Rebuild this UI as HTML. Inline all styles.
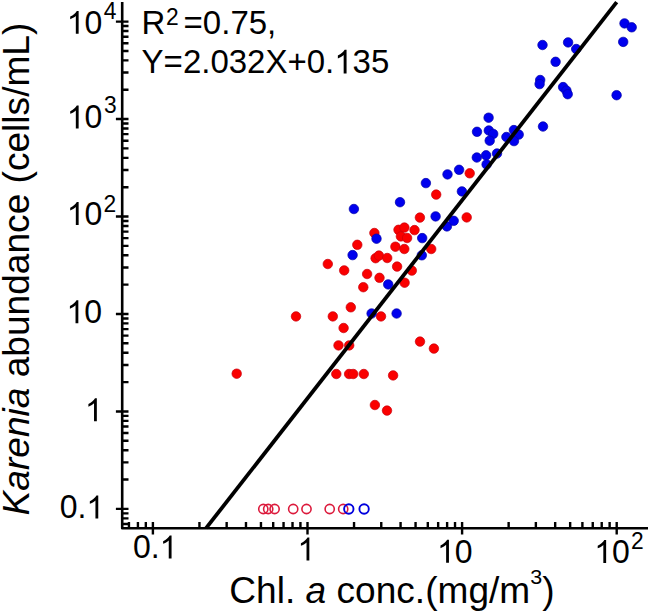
<!DOCTYPE html>
<html><head><meta charset="utf-8"><style>
html,body{margin:0;padding:0;background:#fff;overflow:hidden;}
svg{display:block;}
text{font-family:"Liberation Sans",sans-serif;fill:#000;}
</style></head><body>
<svg width="650" height="612" viewBox="0 0 650 612">
<rect width="650" height="612" fill="#fff"/>
<circle cx="236.7" cy="373.7" r="4.75" fill="#fa0000" stroke="#c8000c" stroke-width="0.7"/><circle cx="296.0" cy="316.4" r="4.75" fill="#fa0000" stroke="#c8000c" stroke-width="0.7"/><circle cx="327.8" cy="264.0" r="4.75" fill="#fa0000" stroke="#c8000c" stroke-width="0.7"/><circle cx="332.8" cy="316.4" r="4.75" fill="#fa0000" stroke="#c8000c" stroke-width="0.7"/><circle cx="336.3" cy="374.0" r="4.75" fill="#fa0000" stroke="#c8000c" stroke-width="0.7"/><circle cx="338.5" cy="345.4" r="4.75" fill="#fa0000" stroke="#c8000c" stroke-width="0.7"/><circle cx="343.6" cy="328.0" r="4.75" fill="#fa0000" stroke="#c8000c" stroke-width="0.7"/><circle cx="344.2" cy="270.4" r="4.75" fill="#fa0000" stroke="#c8000c" stroke-width="0.7"/><circle cx="349.2" cy="345.4" r="4.75" fill="#fa0000" stroke="#c8000c" stroke-width="0.7"/><circle cx="349.1" cy="374.0" r="4.75" fill="#fa0000" stroke="#c8000c" stroke-width="0.7"/><circle cx="350.8" cy="307.3" r="4.75" fill="#fa0000" stroke="#c8000c" stroke-width="0.7"/><circle cx="353.2" cy="374.0" r="4.75" fill="#fa0000" stroke="#c8000c" stroke-width="0.7"/><circle cx="357.3" cy="244.8" r="4.75" fill="#fa0000" stroke="#c8000c" stroke-width="0.7"/><circle cx="363.3" cy="287.2" r="4.75" fill="#fa0000" stroke="#c8000c" stroke-width="0.7"/><circle cx="363.8" cy="374.0" r="4.75" fill="#fa0000" stroke="#c8000c" stroke-width="0.7"/><circle cx="367.1" cy="274.0" r="4.75" fill="#fa0000" stroke="#c8000c" stroke-width="0.7"/><circle cx="374.4" cy="233.0" r="4.75" fill="#fa0000" stroke="#c8000c" stroke-width="0.7"/><circle cx="374.9" cy="405.0" r="4.75" fill="#fa0000" stroke="#c8000c" stroke-width="0.7"/><circle cx="375.6" cy="258.2" r="4.75" fill="#fa0000" stroke="#c8000c" stroke-width="0.7"/><circle cx="378.9" cy="255.6" r="4.75" fill="#fa0000" stroke="#c8000c" stroke-width="0.7"/><circle cx="379.5" cy="277.8" r="4.75" fill="#fa0000" stroke="#c8000c" stroke-width="0.7"/><circle cx="381.0" cy="316.4" r="4.75" fill="#fa0000" stroke="#c8000c" stroke-width="0.7"/><circle cx="387.2" cy="258.0" r="4.75" fill="#fa0000" stroke="#c8000c" stroke-width="0.7"/><circle cx="387.0" cy="410.6" r="4.75" fill="#fa0000" stroke="#c8000c" stroke-width="0.7"/><circle cx="393.1" cy="375.4" r="4.75" fill="#fa0000" stroke="#c8000c" stroke-width="0.7"/><circle cx="395.4" cy="246.7" r="4.75" fill="#fa0000" stroke="#c8000c" stroke-width="0.7"/><circle cx="397.1" cy="266.6" r="4.75" fill="#fa0000" stroke="#c8000c" stroke-width="0.7"/><circle cx="398.5" cy="229.8" r="4.75" fill="#fa0000" stroke="#c8000c" stroke-width="0.7"/><circle cx="404.4" cy="227.6" r="4.75" fill="#fa0000" stroke="#c8000c" stroke-width="0.7"/><circle cx="400.9" cy="236.4" r="4.75" fill="#fa0000" stroke="#c8000c" stroke-width="0.7"/><circle cx="407.1" cy="238.0" r="4.75" fill="#fa0000" stroke="#c8000c" stroke-width="0.7"/><circle cx="404.3" cy="249.0" r="4.75" fill="#fa0000" stroke="#c8000c" stroke-width="0.7"/><circle cx="404.6" cy="282.7" r="4.75" fill="#fa0000" stroke="#c8000c" stroke-width="0.7"/><circle cx="411.8" cy="270.6" r="4.75" fill="#fa0000" stroke="#c8000c" stroke-width="0.7"/><circle cx="414.5" cy="230.1" r="4.75" fill="#fa0000" stroke="#c8000c" stroke-width="0.7"/><circle cx="419.9" cy="217.6" r="4.75" fill="#fa0000" stroke="#c8000c" stroke-width="0.7"/><circle cx="420.0" cy="341.6" r="4.75" fill="#fa0000" stroke="#c8000c" stroke-width="0.7"/><circle cx="431.2" cy="249.0" r="4.75" fill="#fa0000" stroke="#c8000c" stroke-width="0.7"/><circle cx="433.9" cy="348.6" r="4.75" fill="#fa0000" stroke="#c8000c" stroke-width="0.7"/><circle cx="436.2" cy="194.6" r="4.75" fill="#fa0000" stroke="#c8000c" stroke-width="0.7"/><circle cx="466.7" cy="217.4" r="4.75" fill="#fa0000" stroke="#c8000c" stroke-width="0.7"/><circle cx="469.7" cy="173.3" r="4.75" fill="#fa0000" stroke="#c8000c" stroke-width="0.7"/><circle cx="353.9" cy="209.0" r="4.75" fill="#0000ee" stroke="#0000a8" stroke-width="0.7"/><circle cx="352.6" cy="255.1" r="4.75" fill="#0000ee" stroke="#0000a8" stroke-width="0.7"/><circle cx="376.5" cy="238.7" r="4.75" fill="#0000ee" stroke="#0000a8" stroke-width="0.7"/><circle cx="371.6" cy="313.5" r="4.75" fill="#0000ee" stroke="#0000a8" stroke-width="0.7"/><circle cx="388.2" cy="284.4" r="4.75" fill="#0000ee" stroke="#0000a8" stroke-width="0.7"/><circle cx="396.6" cy="313.5" r="4.75" fill="#0000ee" stroke="#0000a8" stroke-width="0.7"/><circle cx="400.0" cy="202.2" r="4.75" fill="#0000ee" stroke="#0000a8" stroke-width="0.7"/><circle cx="421.8" cy="255.3" r="4.75" fill="#0000ee" stroke="#0000a8" stroke-width="0.7"/><circle cx="422.2" cy="238.1" r="4.75" fill="#0000ee" stroke="#0000a8" stroke-width="0.7"/><circle cx="425.9" cy="183.1" r="4.75" fill="#0000ee" stroke="#0000a8" stroke-width="0.7"/><circle cx="435.6" cy="216.4" r="4.75" fill="#0000ee" stroke="#0000a8" stroke-width="0.7"/><circle cx="446.9" cy="226.4" r="4.75" fill="#0000ee" stroke="#0000a8" stroke-width="0.7"/><circle cx="447.5" cy="174.4" r="4.75" fill="#0000ee" stroke="#0000a8" stroke-width="0.7"/><circle cx="453.7" cy="220.8" r="4.75" fill="#0000ee" stroke="#0000a8" stroke-width="0.7"/><circle cx="459.1" cy="169.8" r="4.75" fill="#0000ee" stroke="#0000a8" stroke-width="0.7"/><circle cx="461.9" cy="191.4" r="4.75" fill="#0000ee" stroke="#0000a8" stroke-width="0.7"/><circle cx="476.8" cy="157.5" r="4.75" fill="#0000ee" stroke="#0000a8" stroke-width="0.7"/><circle cx="477.0" cy="131.8" r="4.75" fill="#0000ee" stroke="#0000a8" stroke-width="0.7"/><circle cx="486.1" cy="155.3" r="4.75" fill="#0000ee" stroke="#0000a8" stroke-width="0.7"/><circle cx="486.6" cy="164.4" r="4.75" fill="#0000ee" stroke="#0000a8" stroke-width="0.7"/><circle cx="488.6" cy="117.7" r="4.75" fill="#0000ee" stroke="#0000a8" stroke-width="0.7"/><circle cx="488.8" cy="130.5" r="4.75" fill="#0000ee" stroke="#0000a8" stroke-width="0.7"/><circle cx="493.2" cy="133.9" r="4.75" fill="#0000ee" stroke="#0000a8" stroke-width="0.7"/><circle cx="489.7" cy="140.7" r="4.75" fill="#0000ee" stroke="#0000a8" stroke-width="0.7"/><circle cx="497.0" cy="153.5" r="4.75" fill="#0000ee" stroke="#0000a8" stroke-width="0.7"/><circle cx="506.4" cy="137.0" r="4.75" fill="#0000ee" stroke="#0000a8" stroke-width="0.7"/><circle cx="513.9" cy="130.1" r="4.75" fill="#0000ee" stroke="#0000a8" stroke-width="0.7"/><circle cx="518.7" cy="134.6" r="4.75" fill="#0000ee" stroke="#0000a8" stroke-width="0.7"/><circle cx="514.0" cy="141.1" r="4.75" fill="#0000ee" stroke="#0000a8" stroke-width="0.7"/><circle cx="543.0" cy="126.5" r="4.75" fill="#0000ee" stroke="#0000a8" stroke-width="0.7"/><circle cx="542.5" cy="45.0" r="4.75" fill="#0000ee" stroke="#0000a8" stroke-width="0.7"/><circle cx="568.1" cy="42.4" r="4.75" fill="#0000ee" stroke="#0000a8" stroke-width="0.7"/><circle cx="576.2" cy="49.0" r="4.75" fill="#0000ee" stroke="#0000a8" stroke-width="0.7"/><circle cx="555.6" cy="61.8" r="4.75" fill="#0000ee" stroke="#0000a8" stroke-width="0.7"/><circle cx="540.2" cy="80.0" r="4.75" fill="#0000ee" stroke="#0000a8" stroke-width="0.7"/><circle cx="539.6" cy="84.1" r="4.75" fill="#0000ee" stroke="#0000a8" stroke-width="0.7"/><circle cx="563.1" cy="87.1" r="4.75" fill="#0000ee" stroke="#0000a8" stroke-width="0.7"/><circle cx="566.4" cy="90.6" r="4.75" fill="#0000ee" stroke="#0000a8" stroke-width="0.7"/><circle cx="567.7" cy="94.2" r="4.75" fill="#0000ee" stroke="#0000a8" stroke-width="0.7"/><circle cx="624.5" cy="23.4" r="4.75" fill="#0000ee" stroke="#0000a8" stroke-width="0.7"/><circle cx="631.7" cy="27.3" r="4.75" fill="#0000ee" stroke="#0000a8" stroke-width="0.7"/><circle cx="623.2" cy="41.9" r="4.75" fill="#0000ee" stroke="#0000a8" stroke-width="0.7"/><circle cx="616.6" cy="95.2" r="4.75" fill="#0000ee" stroke="#0000a8" stroke-width="0.7"/><circle cx="263.3" cy="509.0" r="4.6" fill="none" stroke="#dc1a3c" stroke-width="1.6"/><circle cx="268.2" cy="509.0" r="4.6" fill="none" stroke="#dc1a3c" stroke-width="1.6"/><circle cx="274.6" cy="509.0" r="4.6" fill="none" stroke="#dc1a3c" stroke-width="1.6"/><circle cx="293.2" cy="509.0" r="4.6" fill="none" stroke="#dc1a3c" stroke-width="1.6"/><circle cx="306.5" cy="509.0" r="4.6" fill="none" stroke="#dc1a3c" stroke-width="1.6"/><circle cx="329.7" cy="509.0" r="4.6" fill="none" stroke="#dc1a3c" stroke-width="1.6"/><circle cx="343.2" cy="509.0" r="4.6" fill="none" stroke="#dc1a3c" stroke-width="1.6"/><circle cx="348.8" cy="509.0" r="4.7" fill="none" stroke="#0000dd" stroke-width="1.9"/><circle cx="364.1" cy="509.0" r="4.7" fill="none" stroke="#0000dd" stroke-width="1.9"/>
<path d="M206.08 528.2L616.70 2.2" stroke="#000" stroke-width="3.8" fill="none"/>
<path d="M122.2 2.0V528.2H648.0" stroke="#000" stroke-width="2.6" fill="none" stroke-linejoin="round"/>
<path d="M122.2 524.00H128.5M122.2 518.34H128.5M122.2 513.36H128.5M115.9 508.90H128.5M122.2 479.56H128.5M122.2 462.40H128.5M122.2 450.22H128.5M122.2 440.78H128.5M122.2 433.06H128.5M122.2 426.54H128.5M122.2 420.88H128.5M122.2 415.90H128.5M115.9 411.44H128.5M122.2 382.10H128.5M122.2 364.94H128.5M122.2 352.76H128.5M122.2 343.32H128.5M122.2 335.60H128.5M122.2 329.08H128.5M122.2 323.42H128.5M122.2 318.44H128.5M115.9 313.98H128.5M122.2 284.64H128.5M122.2 267.48H128.5M122.2 255.30H128.5M122.2 245.86H128.5M122.2 238.14H128.5M122.2 231.62H128.5M122.2 225.96H128.5M122.2 220.98H128.5M115.9 216.52H128.5M122.2 187.18H128.5M122.2 170.02H128.5M122.2 157.84H128.5M122.2 148.40H128.5M122.2 140.68H128.5M122.2 134.16H128.5M122.2 128.50H128.5M122.2 123.52H128.5M115.9 119.06H128.5M122.2 89.72H128.5M122.2 72.56H128.5M122.2 60.38H128.5M122.2 50.94H128.5M122.2 43.22H128.5M122.2 36.70H128.5M122.2 31.04H128.5M122.2 26.06H128.5M115.9 21.60H128.5M128.95 522.0V528.2M137.92 522.0V528.2M145.83 522.0V528.2M152.90 522.0V534.6M199.44 522.0V528.2M226.66 522.0V528.2M245.98 522.0V528.2M260.96 522.0V528.2M273.20 522.0V528.2M283.55 522.0V528.2M292.52 522.0V528.2M300.43 522.0V528.2M307.50 522.0V534.6M354.04 522.0V528.2M381.26 522.0V528.2M400.58 522.0V528.2M415.56 522.0V528.2M427.80 522.0V528.2M438.15 522.0V528.2M447.12 522.0V528.2M455.03 522.0V528.2M462.10 522.0V534.6M508.64 522.0V528.2M535.86 522.0V528.2M555.18 522.0V528.2M570.16 522.0V528.2M582.40 522.0V528.2M592.75 522.0V528.2M601.72 522.0V528.2M609.63 522.0V528.2M616.70 522.0V534.6" stroke="#000" stroke-width="2.4" fill="none"/>
<path transform="translate(66.72 33.80) scale(0.01562 -0.01562)" d="M763 0H583V1147Q518 1085 415 1024.5Q312 964 223 931V1105Q371 1175 482.5 1274.5Q594 1374 646 1466H763Z"/><text transform="translate(84.51 33.80) scale(1 1.03)" font-size="32">0</text><text transform="translate(103.70 18.50) scale(1 1.08)" font-size="22.8">4</text>
<path transform="translate(66.72 128.40) scale(0.01562 -0.01562)" d="M763 0H583V1147Q518 1085 415 1024.5Q312 964 223 931V1105Q371 1175 482.5 1274.5Q594 1374 646 1466H763Z"/><text transform="translate(84.51 128.40) scale(1 1.03)" font-size="32">0</text><text transform="translate(103.90 113.20) scale(1 1.08)" font-size="22.8">3</text>
<path transform="translate(66.72 225.00) scale(0.01562 -0.01562)" d="M763 0H583V1147Q518 1085 415 1024.5Q312 964 223 931V1105Q371 1175 482.5 1274.5Q594 1374 646 1466H763Z"/><text transform="translate(84.51 225.00) scale(1 1.03)" font-size="32">0</text><text transform="translate(103.50 211.50) scale(1 1.08)" font-size="22.8">2</text>
<path transform="translate(66.42 323.20) scale(0.01562 -0.01562)" d="M763 0H583V1147Q518 1085 415 1024.5Q312 964 223 931V1105Q371 1175 482.5 1274.5Q594 1374 646 1466H763Z"/><text transform="translate(84.21 323.20) scale(1 1.03)" font-size="32">0</text>
<path transform="translate(84.92 421.20) scale(0.01562 -0.01562)" d="M763 0H583V1147Q518 1085 415 1024.5Q312 964 223 931V1105Q371 1175 482.5 1274.5Q594 1374 646 1466H763Z"/>
<text transform="translate(59.65 518.40) scale(1 1.03)" font-size="32">0.</text><path transform="translate(86.34 518.40) scale(0.01562 -0.01562)" d="M763 0H583V1147Q518 1085 415 1024.5Q312 964 223 931V1105Q371 1175 482.5 1274.5Q594 1374 646 1466H763Z"/>
<text transform="translate(132.95 558.40) scale(1 1.03)" font-size="32">0.</text><path transform="translate(159.64 558.40) scale(0.01562 -0.01562)" d="M763 0H583V1147Q518 1085 415 1024.5Q312 964 223 931V1105Q371 1175 482.5 1274.5Q594 1374 646 1466H763Z"/>
<path transform="translate(297.42 560.40) scale(0.01562 -0.01562)" d="M763 0H583V1147Q518 1085 415 1024.5Q312 964 223 931V1105Q371 1175 482.5 1274.5Q594 1374 646 1466H763Z"/>
<path transform="translate(437.02 562.70) scale(0.01562 -0.01562)" d="M763 0H583V1147Q518 1085 415 1024.5Q312 964 223 931V1105Q371 1175 482.5 1274.5Q594 1374 646 1466H763Z"/><text transform="translate(454.81 562.70) scale(1 1.03)" font-size="32">0</text>
<path transform="translate(594.22 562.90) scale(0.01562 -0.01562)" d="M763 0H583V1147Q518 1085 415 1024.5Q312 964 223 931V1105Q371 1175 482.5 1274.5Q594 1374 646 1466H763Z"/><text transform="translate(612.01 562.90) scale(1 1.03)" font-size="32">0</text><text transform="translate(631.00 548.90) scale(1 1.08)" font-size="22.8">2</text>
<text x="141.50" y="33.80" font-size="33">R</text><text transform="translate(166.00 24.90) scale(1 1.08)" font-size="22.8">2</text><text x="183.60" y="33.80" font-size="33">=0.75,</text>
<text x="141.60" y="73.40" font-size="33">Y=2.032X+0.</text><path transform="translate(334.27 73.40) scale(0.01611 -0.01611)" d="M763 0H583V1147Q518 1085 415 1024.5Q312 964 223 931V1105Q371 1175 482.5 1274.5Q594 1374 646 1466H763Z"/><text x="352.62" y="73.40" font-size="33">35</text>
<text transform="translate(229.3 602.5) scale(1 0.98)" font-size="37.1">Chl. <tspan font-style="italic">a</tspan> conc.(mg/m<tspan font-size="21.5" dy="-19">3</tspan><tspan dy="19">)</tspan></text>
<text transform="translate(28.5,515.4) rotate(-90) scale(1 0.98)" font-size="37.1"><tspan font-style="italic">Karenia</tspan> abundance (cells/mL)</text>
</svg>
</body></html>
